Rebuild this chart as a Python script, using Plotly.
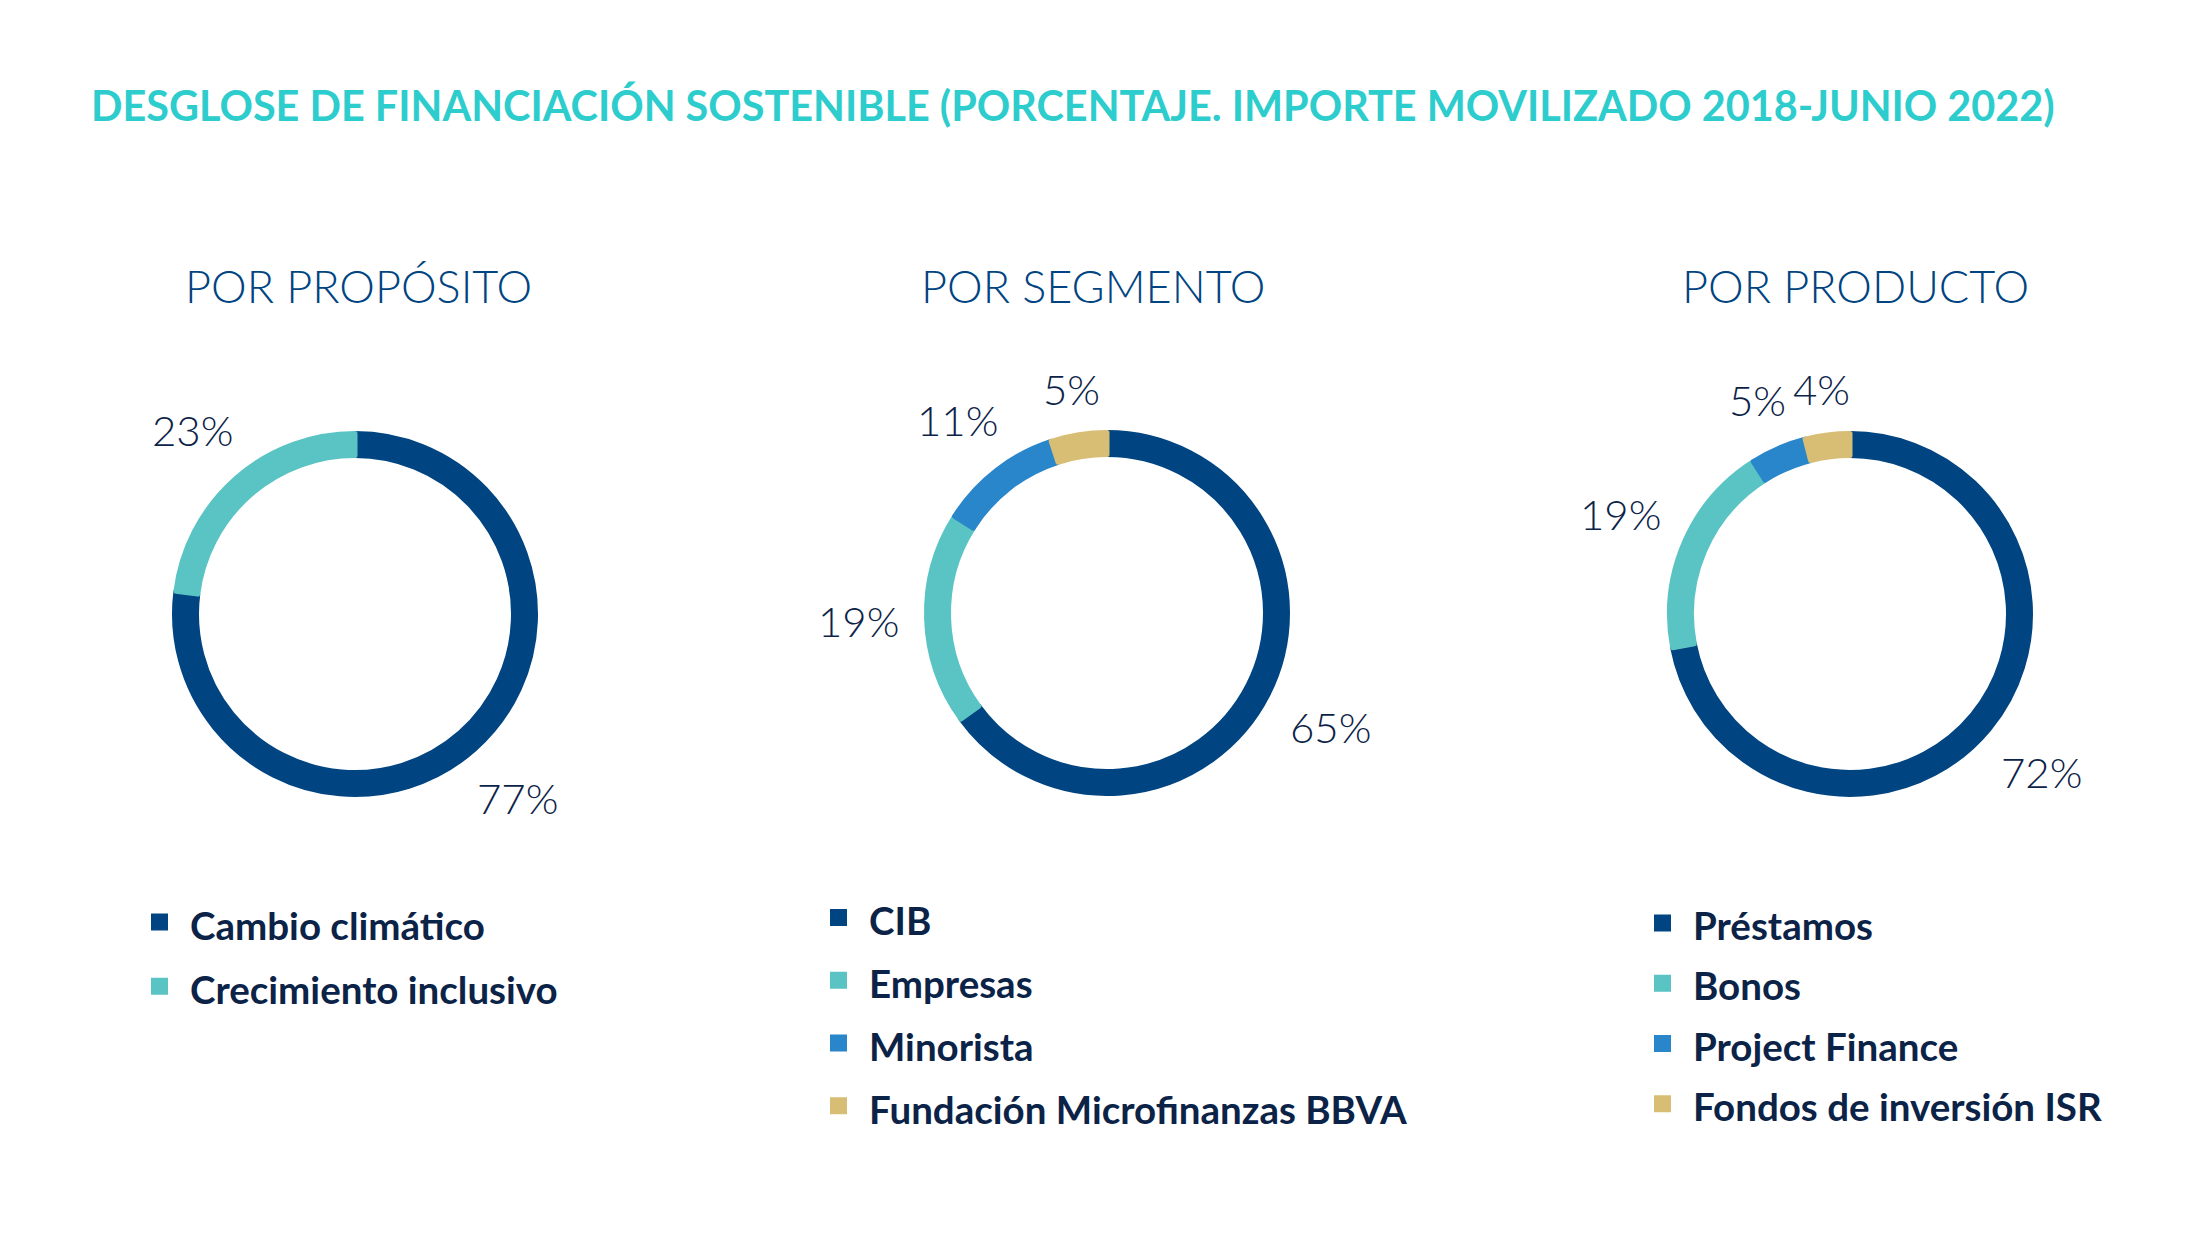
import math
import plotly.graph_objects as go

W, H = 2200, 1234
PAGE_MARGIN = 8          # default body margin of the html page
FW, FH = W - 2 * PAGE_MARGIN, H - 2 * PAGE_MARGIN

TITLE = "DESGLOSE DE FINANCIACIÓN SOSTENIBLE (PORCENTAJE. IMPORTE MOVILIZADO 2018-JUNIO 2022)"

# data
prop_title = "POR PROPÓSITO"
prop_labels = ["Cambio climático", "Crecimiento inclusivo"]
prop_values = [77, 23]

seg_title = "POR SEGMENTO"
seg_labels = ["CIB", "Empresas", "Minorista", "Fundación Microfinanzas BBVA"]
seg_values = [65, 19, 11, 5]

prod_title = "POR PRODUCTO"
prod_labels = ["Préstamos", "Bonos", "Project Finance", "Fondos de inversión ISR"]
prod_values = [72, 19, 5, 4]

# colours
NAVY = "#004481"
TEAL = "#5AC4C4"
BLUE = "#2A86CA"
SAND = "#D8BE75"
SLICE_COLORS = [NAVY, TEAL, BLUE, SAND]
TITLE_COLOR = "#2DCCCD"
TEXT_DARK = "#0C2348"

FONT = "Lato"

R_OUT = 183      # visible outer radius
R_IN = 156       # visible inner radius
STROKE = 5       # slice outline, same colour as slice (also enlarges legend swatch)
LABEL_GAP = 25
LABEL_FS = 42


def px(x):
    return (x - PAGE_MARGIN) / FW


def py(y):
    return 1 - (y - PAGE_MARGIN) / FH


# page positions (px): donut centre, subtitle centre, legend corner
charts = [
    dict(title=prop_title, labels=prop_labels, values=prop_values,
         cx=355, cy=614, tx=358, legend="legend", lx=129, ly=885, lfs=47),
    dict(title=seg_title, labels=seg_labels, values=seg_values,
         cx=1107, cy=613, tx=1093, legend="legend2", lx=808, ly=881, lfs=46),
    dict(title=prod_title, labels=prod_labels, values=prod_values,
         cx=1850, cy=614, tx=1855, legend="legend3", lx=1632, ly=888, lfs=44),
]

fig = go.Figure()
annotations = []
legends = {}

r_pie = R_OUT - STROKE / 2
hole = (R_IN + STROKE / 2) / r_pie

for ch in charts:
    cx, cy = ch["cx"], ch["cy"]
    colors = SLICE_COLORS[: len(ch["values"])]
    fig.add_trace(
        go.Pie(
            labels=[f"<span style='font-size:38.5px'>{t}</span>" for t in ch["labels"]],
            values=ch["values"],
            hole=hole,
            sort=False,
            direction="clockwise",
            rotation=0,
            textinfo="none",
            marker=dict(colors=colors, line=dict(color=colors, width=STROKE)),
            domain=dict(x=[px(cx - r_pie), px(cx + r_pie)],
                        y=[py(cy + r_pie), py(cy - r_pie)]),
            legend=ch["legend"],
            hovertemplate="%{label}: %{value}%<extra></extra>",
        )
    )

    # percentage labels at the middle angle of each slice
    total = sum(ch["values"])
    cum = 0
    for v in ch["values"]:
        theta = 2 * math.pi * (cum + v / 2) / total
        cum += v
        dx, dy = math.sin(theta), -math.cos(theta)
        txt = f"{v}%"
        w = 0.56 * LABEL_FS * (len(txt) - 1) + 0.78 * LABEL_FS
        proj = abs(dx) * w / 2 + abs(dy) * 15
        d = R_OUT + LABEL_GAP + proj
        annotations.append(
            dict(
                text=txt,
                x=px(cx + dx * d),
                y=py(cy + dy * d),
                xref="paper", yref="paper",
                xanchor="center", yanchor="middle",
                showarrow=False,
                font=dict(family=FONT, size=LABEL_FS, color=TEXT_DARK, weight=300),
            )
        )

    annotations.append(
        dict(
            text=ch["title"],
            x=px(ch["tx"]),
            y=py(286),
            xref="paper", yref="paper",
            xanchor="center", yanchor="middle",
            showarrow=False,
            font=dict(family=FONT, size=45, color=NAVY, weight=300),
        )
    )

    legends[ch["legend"]] = dict(
        x=px(ch["lx"]),
        y=py(ch["ly"]),
        xanchor="left",
        yanchor="top",
        orientation="v",
        itemwidth=51,
        bgcolor="rgba(0,0,0,0)",
        font=dict(family=FONT, size=ch["lfs"], color=TEXT_DARK, weight=700),
        itemclick=False,
        itemdoubleclick=False,
    )

fig.update_layout(
    width=FW,
    height=FH,
    margin=dict(l=0, r=0, t=0, b=0),
    paper_bgcolor="white",
    plot_bgcolor="white",
    showlegend=True,
    title=dict(
        text=TITLE,
        x=px(91),
        xanchor="left",
        y=py(107),
        yanchor="middle",
        font=dict(family=FONT, size=41.4, color=TITLE_COLOR, weight=700),
    ),
    annotations=annotations,
    **legends,
)

fig.write_html("out.html")
